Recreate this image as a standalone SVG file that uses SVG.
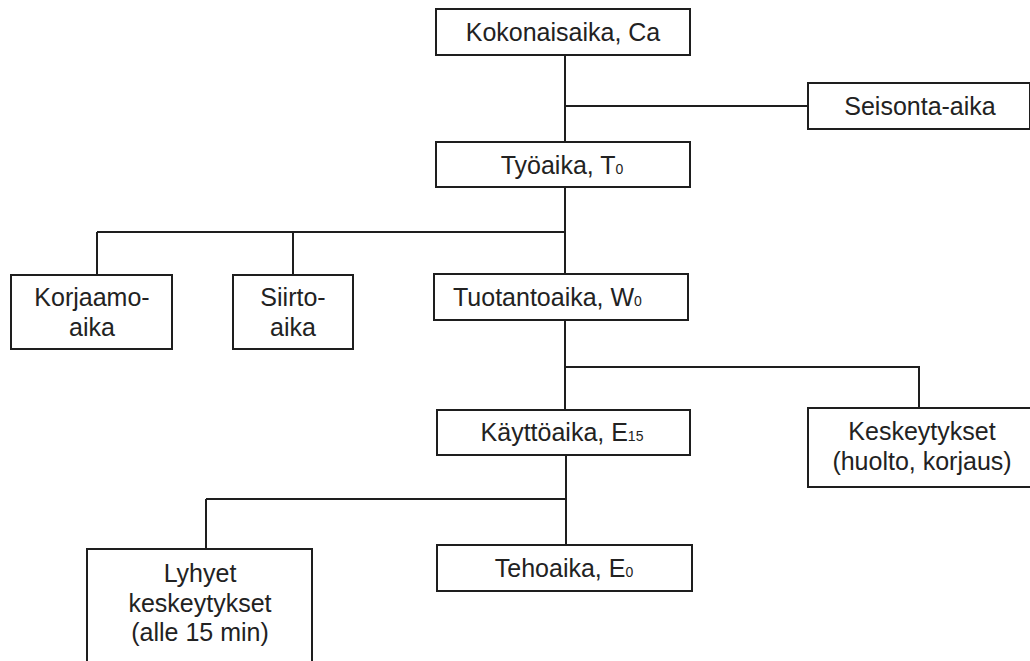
<svg xmlns="http://www.w3.org/2000/svg" width="1030" height="661" viewBox="0 0 1030 661">
<style>
.box{fill:#fff;stroke:#1e1e1e;stroke-width:2}
.ln{fill:none;stroke:#1e1e1e;stroke-width:2}
text{font-family:"Liberation Sans",Arial,sans-serif;font-size:25px;fill:#222;text-anchor:middle}
.sub{font-size:14px}
</style>
<rect width="1030" height="661" fill="#fff"/>
<g id="connectors">
<path class="ln" d="M565 55V143M565 106H808"/>
<path class="ln" d="M565 187V275M97 232H565M97 232V275M293 232V275"/>
<path class="ln" d="M565 320V410M565 367H919V408"/>
<path class="ln" d="M566 455V546M206 499H566M206 499V549"/>
</g>
<g id="kokonaisaika"><rect class="box" x="436" y="9" width="254" height="46"/><text x="563" y="41">Kokonaisaika, Ca</text></g>
<g id="seisonta"><rect class="box" x="808" y="83" width="222" height="46"/><text x="920" y="115">Seisonta-aika</text></g>
<g id="tyoaika"><rect class="box" x="436" y="142" width="254" height="45"/><text x="562" y="174">Työaika, T<tspan class="sub">0</tspan></text></g>
<g id="korjaamo"><rect class="box" x="11" y="275" width="161" height="74"/><text x="92" y="306">Korjaamo-</text><text x="92" y="336">aika</text></g>
<g id="siirto"><rect class="box" x="233" y="275" width="120" height="74"/><text x="293" y="306">Siirto-</text><text x="293" y="336">aika</text></g>
<g id="tuotantoaika"><rect class="box" x="434" y="274" width="254" height="46"/><text x="453" y="306" style="text-anchor:start">Tuotantoaika, W<tspan class="sub">0</tspan></text></g>
<g id="kayttoaika"><rect class="box" x="437" y="410" width="253" height="45"/><text x="562" y="441">Käyttöaika, E<tspan class="sub">15</tspan></text></g>
<g id="keskeytykset"><rect class="box" x="808" y="408" width="230" height="79"/><text x="922" y="440">Keskeytykset</text><text x="922" y="470">(huolto, korjaus)</text></g>
<g id="tehoaika"><rect class="box" x="437" y="545" width="255" height="46"/><text x="564" y="577">Tehoaika, E<tspan class="sub">0</tspan></text></g>
<g id="lyhyet"><rect class="box" x="87" y="549" width="225" height="115"/><text x="200" y="582">Lyhyet</text><text x="200" y="612">keskeytykset</text><text x="200" y="641">(alle 15 min)</text></g>
</svg>
